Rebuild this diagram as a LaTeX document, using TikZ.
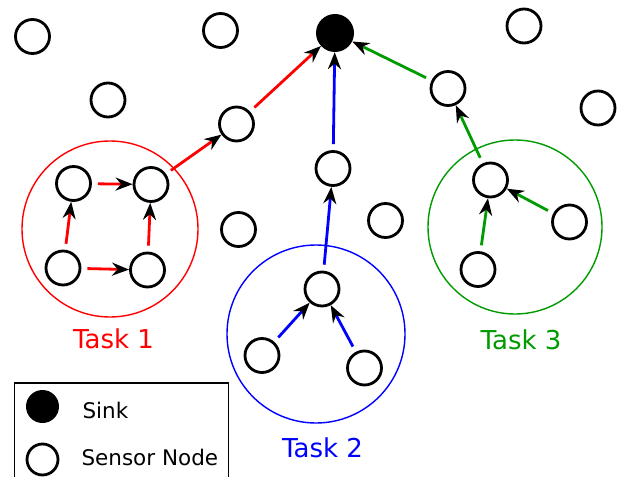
\documentclass[tikz,border=0pt]{standalone}
\usepackage{fontspec}
\setmainfont{DejaVu Sans}
\usepackage{tikz}
\usetikzlibrary{arrows.meta}
\definecolor{taskgreen}{RGB}{0,155,0}
\tikzset{>={Stealth[length=17pt, width=13pt, color=black]}}
\tikzset{
  sensor/.style={circle, draw=black, line width=2.8pt, minimum size=34pt, inner sep=0pt},
  sinknode/.style={circle, fill=black, minimum size=38pt, inner sep=0pt},
  link/.style={->, line width=2.8pt, shorten <=6pt},
  region/.style={circle, draw, line width=1.4pt, inner sep=0pt, minimum size=176pt},
  tasklabel/.style={anchor=base, font=\fontsize{26}{31}\selectfont},
  legendtext/.style={anchor=base west, font=\fontsize{21.5}{25}\selectfont}
}

\begin{document}
\begin{tikzpicture}[x=1pt, y=-1pt]
            \useasboundingbox (0,0) rectangle (628,476);

            %task regions
            \node[region, draw=red] (reg1) at (110,229) {};
            \node[region, draw=blue, minimum size=178pt] (reg2) at (316,334) {};
            \node[region, draw=taskgreen, minimum size=174pt] (reg3) at (515,227) {};

            %sink
            \node[sinknode] (sink) at (335,33) {};

            %free sensors
            \node[sensor] (n1) at (32.5,36.5) {};
            \node[sensor] (n2) at (220.5,30.5) {};
            \node[sensor] (n3) at (108,100) {};
            \node[sensor] (n4) at (524,26) {};
            \node[sensor] (n5) at (598,108) {};
            \node[sensor] (n6) at (238.5,229.5) {};
            \node[sensor] (n7) at (385.5,220.5) {};

            %relays
            \node[sensor] (relay1) at (236.5,124) {};
            \node[sensor] (relay2) at (333,168.5) {};
            \node[sensor] (relay3) at (448,88.5) {};

            %task 1
            \node[sensor] (a1) at (73.5,183.5) {};
            \node[sensor] (a2) at (151,184.5) {};
            \node[sensor] (a3) at (63,268) {};
            \node[sensor] (a4) at (147.5,270) {};

            \draw[link, red] (a3) -- (a1);
            \draw[link, red] (a1) -- (a2);
            \draw[link, red] (a3) -- (a4);
            \draw[link, red] (a4) -- (a2);
            \draw[link, red] (a2) -- (relay1);
            \draw[link, red] (relay1) -- (sink);

            %task 2
            \node[sensor] (b1) at (322,289) {};
            \node[sensor] (b2) at (262,355.5) {};
            \node[sensor] (b3) at (364.5,368) {};

            \draw[link, blue] (b2) -- (b1);
            \draw[link, blue] (b3) -- (b1);
            \draw[link, blue] (b1) -- (relay2);
            \draw[link, blue] (relay2) -- (sink);

            %task 3
            \node[sensor] (c1) at (490.5,180) {};
            \node[sensor] (c2) at (478,269.5) {};
            \node[sensor] (c3) at (569.5,222) {};

            \draw[link, taskgreen] (c2) -- (c1);
            \draw[link, taskgreen] (c3) -- (c1);
            \draw[link, taskgreen] (c1) -- (relay3);
            \draw[link, taskgreen] (relay3) -- (sink);

            %labels
            \node[tasklabel, red] (lab1) at (113.5,348) {Task 1};
            \node[tasklabel, blue] (lab2) at (322.5,457) {Task 2};
            \node[tasklabel, taskgreen] (lab3) at (521,349) {Task 3};

            %legend
            \draw[line width=1.4pt] (14.5,383) rectangle (228.5,495);
            \node[sinknode, minimum size=33pt] (legsink) at (42.5,406.5) {};
            \node[sensor, minimum size=31pt] (legsensor) at (42.5,459.5) {};
            \node[legendtext] (legsinktext) at (79,418) {Sink};
            \node[legendtext] (legsensortext) at (78,465) {Sensor Node};

        \end{tikzpicture}
\end{document}
